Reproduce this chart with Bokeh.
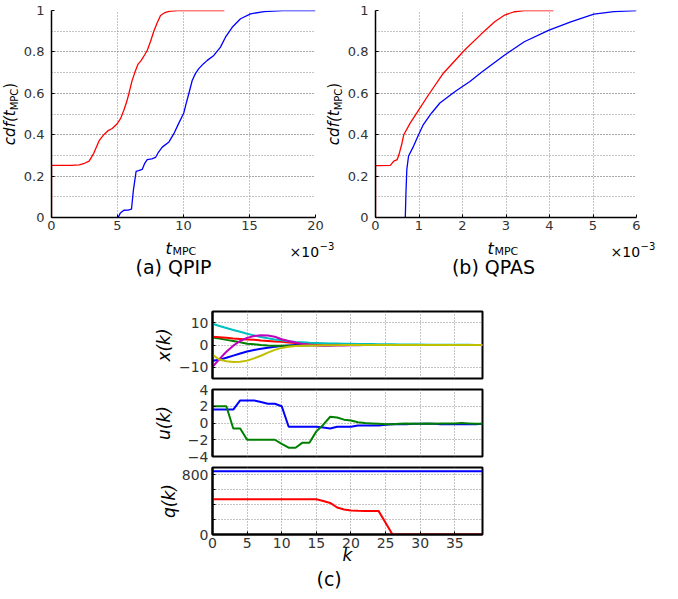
from math import pi
from bokeh.plotting import figure
from bokeh.layouts import column, row
from bokeh.models import Label, Title, SingleIntervalTicker, FixedTicker, CustomJSTickFormatter
from bokeh.embed import file_html
from bokeh.resources import INLINE

# ---------------- data ----------------
# (a) QPIP  (t in units of 1e-3)
qpip_red_t = [0, 0, 0.5, 1.5, 2.1, 2.5, 2.85, 3.2, 3.6, 3.96, 4.3, 4.6, 4.98, 5.25, 5.48, 5.7, 5.86,
              6.1, 6.31, 6.55, 6.8, 7.05, 7.25, 7.5, 7.75, 8.0, 8.26, 8.6, 8.9, 9.5, 10.5, 13.1]
qpip_red_cdf = [0, 0.252, 0.252, 0.252, 0.254, 0.262, 0.272, 0.31, 0.37, 0.40, 0.42, 0.43, 0.453, 0.48,
                0.518, 0.56, 0.598, 0.66, 0.70, 0.74, 0.759, 0.785, 0.807, 0.85, 0.90, 0.94, 0.976, 0.99,
                0.996, 1.0, 1.0, 1.0]
qpip_blue_t = [5.05, 5.2, 5.48, 5.8, 6.06, 6.2, 6.41, 6.6, 6.87, 7.05, 7.25, 7.6, 7.88, 8.1, 8.39, 8.9,
               9.27, 9.6, 10.02, 10.2, 10.4, 10.66, 10.9, 11.16, 11.5, 11.8, 12.3, 12.8, 13.18, 13.69,
               14.32, 15.08, 16.1, 17.5, 20]
qpip_blue_cdf = [0, 0.02, 0.035, 0.036, 0.04, 0.13, 0.223, 0.226, 0.232, 0.26, 0.28, 0.283, 0.29, 0.315,
                 0.34, 0.365, 0.405, 0.45, 0.505, 0.55, 0.598, 0.662, 0.695, 0.719, 0.742, 0.759, 0.783,
                 0.823, 0.871, 0.919, 0.96, 0.984, 0.995, 0.999, 1.0]

# (b) QPAS
qpas_red_t = [0, 0, 0.1, 0.34, 0.42, 0.5, 0.54, 0.57, 0.61, 0.65, 0.8, 0.95, 1.22, 1.56, 2.05, 2.43,
              2.74, 2.97, 3.19, 3.42, 4.09]
qpas_red_cdf = [0, 0.251, 0.251, 0.252, 0.272, 0.28, 0.304, 0.328, 0.36, 0.40, 0.457, 0.505, 0.593,
                0.697, 0.809, 0.886, 0.946, 0.978, 0.994, 1.0, 1.0]
qpas_blue_t = [0.685, 0.7, 0.72, 0.76, 0.876, 0.99, 1.1, 1.29, 1.48, 1.83, 2.17, 2.43, 2.97, 3.42, 3.99,
               4.49, 5.02, 5.48, 6.0]
qpas_blue_cdf = [0, 0.12, 0.232, 0.297, 0.345, 0.40, 0.449, 0.505, 0.553, 0.609, 0.657, 0.70, 0.785,
                 0.849, 0.905, 0.945, 0.982, 0.995, 1.0]

# (c) trajectories, k = 0..39
k = list(range(40))
x_blue = [-7.0, -6.6, -5.7, -4.75, -3.8, -2.9, -2.2, -1.7, -1.2, -0.8, -0.45, -0.2, 0.0, 0.1, 0.2, 0.2,
          0.15, 0.1, 0.05] + [0.0] * 21
x_green = [3.4, 2.9, 2.3, 1.8, 1.2, 0.6, 0.3, 0.0, -0.2, -0.3, -0.3, -0.3, -0.3, -0.25, -0.2, -0.15,
           -0.1, -0.05] + [0.0] * 22
x_red = [3.7, 3.5, 3.2, 2.9, 2.7, 2.5, 2.3, 2.0, 1.8, 1.6, 1.4, 1.1, 0.9, 0.7, 0.5, 0.4, 0.3, 0.2,
         0.15, 0.1, 0.05] + [0.0] * 19
x_cyan = [9.5, 8.5, 7.6, 6.7, 5.9, 5.0, 4.3, 3.6, 3.0, 2.5, 2.1, 1.7, 1.4, 1.2, 1.0, 0.9, 0.8, 0.7,
          0.65, 0.6, 0.55, 0.5, 0.45, 0.4, 0.35, 0.3, 0.28, 0.25, 0.22, 0.2, 0.18, 0.16, 0.14, 0.12,
          0.1, 0.08, 0.07, 0.06, 0.05, 0.04]
x_magenta = [-9.8, -6.3, -3.0, -0.3, 1.8, 3.2, 4.0, 4.4, 4.3, 3.7, 2.6, 1.8, 1.1, 0.5, 0.1, -0.2, -0.3,
             -0.3, -0.25, -0.2, -0.15, -0.1, -0.05] + [0.0] * 17
x_yellow = [-4.4, -6.5, -7.3, -7.6, -7.5, -7.0, -6.0, -4.8, -3.4, -2.2, -1.3, -0.8, -0.5, -0.35, -0.25,
            -0.2, -0.15, -0.1, -0.1, -0.05] + [0.0] * 20

u_blue = [1.6, 1.6, 1.6, 1.6, 2.7, 2.7, 2.7, 2.5, 2.3, 2.3, 2.0, -0.45, -0.45, -0.45, -0.45, -0.45,
          -0.55, -0.65, -0.45, -0.45, -0.45, -0.3, -0.3, -0.3, -0.3, -0.2, -0.15, -0.15, -0.15, -0.1,
          -0.1, -0.1, -0.1, -0.15, -0.15, -0.15, -0.15, -0.15, -0.15, -0.1]
u_green = [2.0, 2.0, 2.0, -0.65, -0.65, -2.0, -2.0, -2.0, -2.0, -2.0, -2.5, -2.95, -2.95, -2.35, -2.35,
           -1.0, -0.2, 0.75, 0.65, 0.4, 0.3, 0.1, 0.0, -0.05, -0.1, -0.15, -0.15, -0.1, -0.05, -0.1,
           -0.1, -0.05, -0.1, -0.05, -0.05, -0.05, 0.0, -0.05, -0.1, -0.1]

q_blue = [848] * 40
q_red = [473] * 16 + [450, 424, 363, 336, 322, 318, 316, 315, 314, 157] + [0] * 14

FONT = "DejaVu Sans"
GRID = "#8a8a8a"
TICKC = "#333333"
RED, BLUE = "#ff0000", "#0000ff"
GREEN, CYAN, MAGENTA, YELLOW = "#008000", "#00bfbf", "#bf00bf", "#bfbf00"


def style(p, boxed=False, tick_size=14):
    for ax in p.axis:
        ax.major_label_text_font = FONT
        ax.major_label_text_font_size = f"{tick_size}px"
        ax.major_label_text_color = TICKC
        ax.axis_line_color = "black"
        ax.axis_line_width = 2 if boxed else 1.5
        ax.major_tick_in = 3
        ax.major_tick_out = 0
        ax.major_tick_line_color = "black"
        ax.minor_tick_line_color = None
        ax.major_label_standoff = 4
        ax.axis_label_text_font = FONT
        ax.axis_label_text_font_style = "italic"
        ax.axis_label_text_font_size = "17px"
        ax.axis_label_text_color = "black"
    for g in p.grid:
        g.grid_line_color = GRID
        g.grid_line_dash = "1 2"
        g.grid_line_width = 1
    if boxed:
        p.outline_line_color = "black"
        p.outline_line_width = 2
        p.outline_line_alpha = 1
    else:
        p.outline_line_color = None


def textfig(w, h):
    p = figure(width=w, height=h, x_range=(0, w), y_range=(h, 0), output_backend="svg",
               toolbar_location=None, title_location=None, min_border_left=0, min_border_right=0,
               min_border_top=0, min_border_bottom=0, x_axis_location=None, y_axis_location=None,
               frame_align=False)
    p.outline_line_color = None
    p.grid.visible = False
    return p


def put(p, x, y, text, size, style="normal", align="left", angle=0.0, baseline="alphabetic"):
    p.add_layout(Label(x=x, y=y, text=text, text_font=FONT, text_font_size=f"{size}px",
                       text_font_style=style, text_align=align, text_baseline=baseline,
                       angle=angle, text_color="black"))


def cdf_label(p, cx, center_y):
    # rotated label, each piece anchored at its own centre
    w1, w2, w3 = 34.8, 21.6, 5.9
    y = center_y + (w1 + w2 + w3) / 2
    put(p, cx, y - w1 / 2, "cdf(t", 15, "italic", align="center", angle=pi / 2, baseline="middle")
    put(p, cx + 4.5, y - w1 - w2 / 2, "MPC", 10, align="center", angle=pi / 2, baseline="middle")
    put(p, cx, y - w1 - w2 - w3 / 2, ")", 15, align="center", angle=pi / 2, baseline="middle")


fmt01 = CustomJSTickFormatter(code="return Number(tick.toFixed(1)).toString();")


def cdf_plot(width, left, right, xmax, xstep, series):
    p = figure(width=width, height=237, x_range=(0, xmax), y_range=(0, 1), output_backend="svg",
               toolbar_location=None, title_location=None, min_border_left=left,
               min_border_right=right, min_border_top=10, min_border_bottom=20, frame_align=False)
    p.xaxis.ticker = SingleIntervalTicker(interval=xstep, num_minor_ticks=0)
    p.yaxis.ticker = SingleIntervalTicker(interval=0.2, num_minor_ticks=2)
    p.yaxis.formatter = fmt01
    style(p, tick_size=13)
    p.xaxis.major_label_standoff = 3
    p.yaxis.major_label_standoff = 3
    p.ygrid.minor_grid_line_color = GRID
    p.ygrid.minor_grid_line_dash = "1 2"
    for xs, ys, c in series:
        p.line(xs, ys, line_color=c, line_width=1.3)
    return p


# ---------------- row 1: (a) and (b) ----------------
pa = cdf_plot(304, 31, 9, 20, 5, [(qpip_red_t, qpip_red_cdf, RED), (qpip_blue_t, qpip_blue_cdf, BLUE)])
pb = cdf_plot(332, 31, 40, 6, 1, [(qpas_red_t, qpas_red_cdf, RED), (qpas_blue_t, qpas_blue_cdf, BLUE)])

ya = textfig(20, 237)
cdf_label(ya, 9, 113.5)
yb = textfig(20, 237)
cdf_label(yb, 9, 113.5)

cap = textfig(676, 48)
for tx, sx, capx, captext in [(165, 289, 173, "(a) QPIP"), (487, 610, 493, "(b) QPAS")]:
    put(cap, tx, 11, "t", 16, "italic")
    put(cap, tx + 7, 14, "MPC", 11)
    put(cap, sx, 14, "×10", 14)
    put(cap, sx + 30, 8, "−3", 10)
    put(cap, capx, 29, captext, 19, align="center")

# ---------------- (c) ----------------
def panel(h, top, bottom, yr, ylabel):
    p = figure(width=676, height=h, x_range=(0, 39), y_range=yr, output_backend="svg",
               toolbar_location=None, title_location=None, min_border_left=212,
               min_border_right=194, min_border_top=top, min_border_bottom=bottom, frame_align=False)
    xt = SingleIntervalTicker(interval=5, num_minor_ticks=0)
    p.xaxis.ticker = xt
    p.xgrid.ticker = xt
    p.yaxis.axis_label = ylabel
    return p


pt = panel(96, 26, 3, (-15, 15), "x(k)")
pt.yaxis.ticker = FixedTicker(ticks=[-10, 0, 10])
pt.ygrid.ticker = FixedTicker(ticks=[-10, 0, 10])
style(pt, boxed=True)
pt.yaxis.axis_label_standoff = 2
pt.xaxis.visible = False
for ys, c in [(x_blue, BLUE), (x_green, GREEN), (x_red, RED), (x_cyan, CYAN), (x_magenta, MAGENTA),
              (x_yellow, YELLOW)]:
    pt.line(k, ys, line_color=c, line_width=2)

pm = panel(83, 8, 8, (-4, 4), "u(k)")
pm.yaxis.ticker = FixedTicker(ticks=[-4, -2, 0, 2, 4])
pm.ygrid.ticker = FixedTicker(ticks=[-2, 0, 2])
style(pm, boxed=True)
pm.yaxis.axis_label_standoff = 11
pm.xaxis.visible = False
pm.line(k, u_blue, line_color=BLUE, line_width=2)
pm.line(k, u_green, line_color=GREEN, line_width=2)

pq = panel(127, 3, 57, (0, 900), "q(k)")
pq.xaxis.axis_label = "k"
pq.yaxis.ticker = FixedTicker(ticks=[0, 200, 400, 600, 800])
pq.yaxis.major_label_overrides = {200: "", 400: "", 600: ""}
style(pq, boxed=True)
pq.yaxis.axis_label_standoff = 0
pq.xaxis.major_label_standoff = 3
pq.xaxis.axis_label_standoff = -6
pq.line(k, q_blue, line_color=BLUE, line_width=2)
pq.line(k, q_red, line_color=RED, line_width=2)
pq.add_layout(Title(text="(c)", align="left", offset=104, standoff=-4, text_font=FONT,
                    text_font_size="19px", text_font_style="normal", text_color="black"), "below")

layout = column(row(ya, pa, yb, pb), cap, pt, pm, pq)
open("out.html", "w").write(file_html(layout, INLINE))
